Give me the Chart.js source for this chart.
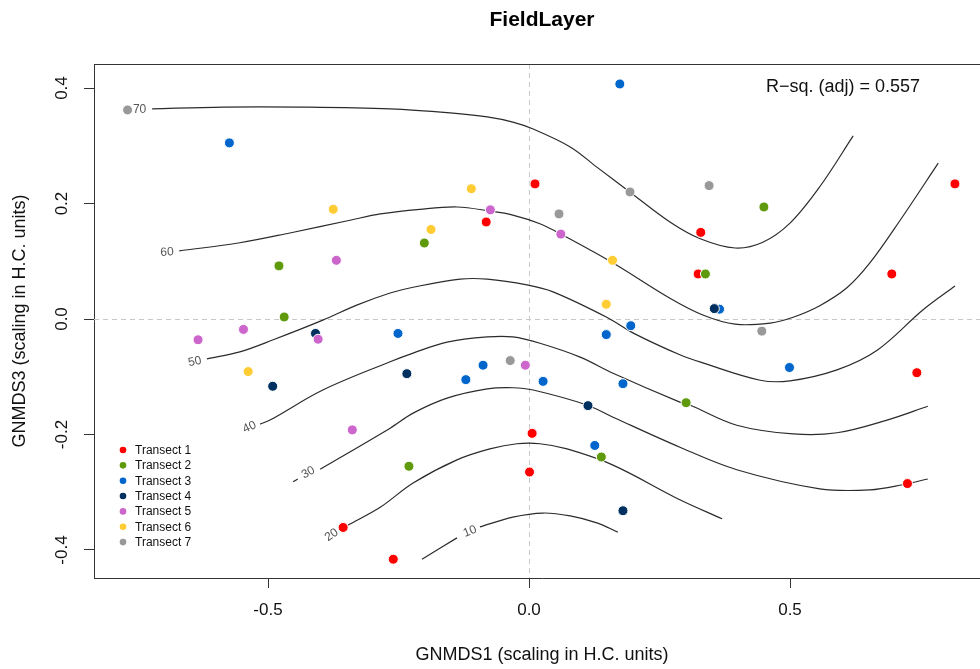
<!DOCTYPE html>
<html><head><meta charset="utf-8">
<script src="https://cdn.jsdelivr.net/npm/chart.js@4/dist/chart.umd.min.js"></script>
<style>html,body{margin:0;padding:0;background:#fff;overflow:hidden;width:980px;height:669px}</style>
</head><body><canvas id="c" width="996" height="669"></canvas>
<script>
// ---------- DATA ----------
const transectNames = ['Transect 1','Transect 2','Transect 3','Transect 4','Transect 5','Transect 6','Transect 7'];

const t1X = [0.0115, -0.082, 0.329, 0.324, 0.695, 0.816, 0.743, 0.006, 0.001, 0.725, -0.356, -0.260];
const t1Y = [0.234, 0.168, 0.150, 0.078, 0.078, 0.234, -0.093, -0.198, -0.265, -0.285, -0.361, -0.416];
const t2X = [0.450, 0.338, -0.479, -0.2005, -0.469, 0.301, 0.1386, -0.230];
const t2Y = [0.194, 0.078, 0.092, 0.1316, 0.0035, -0.145, -0.239, -0.255];
const t3X = [0.174, -0.574, 0.365, 0.195, 0.148, -0.251, -0.088, -0.121, 0.027, 0.180, 0.499, 0.126];
const t3Y = [0.407, 0.305, 0.017, -0.0116, -0.027, -0.025, -0.080, -0.105, -0.108, -0.112, -0.084, -0.219];
const t4X = [0.355, -0.409, -0.491, -0.234, 0.113, 0.180];
const t4Y = [0.018, -0.025, -0.1165, -0.0947, -0.150, -0.332];
const t5X = [-0.074, 0.061, -0.369, -0.547, -0.634, -0.404, -0.007, -0.3385];
const t5Y = [0.189, 0.147, 0.1016, -0.018, -0.036, -0.035, -0.080, -0.192];
const t6X = [-0.1105, -0.375, -0.1877, 0.160, 0.148, -0.538];
const t6Y = [0.2256, 0.190, 0.155, 0.1016, 0.0255, -0.091];
const t7X = [-0.769, 0.1935, 0.345, 0.0575, 0.446, -0.036];
const t7Y = [0.362, 0.220, 0.231, 0.182, -0.021, -0.072];

// contour lines of the fitted surface (level -> [x,y] pairs)
const contour70 = [[-0.722,0.364],[-0.586,0.367],[-0.439,0.367],[-0.266,0.364],[-0.151,0.357],[-0.080,0.350],[-0.031,0.341],[0.008,0.329],[0.079,0.298],[0.130,0.263],[0.193,0.220],[0.270,0.168],[0.328,0.139],[0.395,0.123],[0.448,0.133],[0.500,0.166],[0.557,0.229],[0.621,0.317]];
const contour60 = [[-0.670,0.118],[-0.554,0.132],[-0.458,0.149],[-0.343,0.171],[-0.285,0.182],[-0.209,0.190],[-0.138,0.194],[-0.075,0.187],[-0.031,0.180],[0.021,0.165],[0.061,0.147],[0.161,0.097],[0.270,0.036],[0.333,0.007],[0.395,-0.009],[0.462,-0.007],[0.506,0.003],[0.557,0.023],[0.609,0.054],[0.653,0.097],[0.711,0.171],[0.784,0.270]];
const contour50 = [[-0.617,-0.069],[-0.554,-0.057],[-0.490,-0.036],[-0.395,-0.002],[-0.330,0.024],[-0.266,0.045],[-0.222,0.055],[-0.132,0.069],[-0.080,0.069],[-0.004,0.059],[0.046,0.047],[0.149,0.003],[0.199,-0.024],[0.289,-0.062],[0.333,-0.076],[0.443,-0.106],[0.500,-0.107],[0.590,-0.088],[0.667,-0.054],[0.755,0.016],[0.816,0.057]];
const contour40 = [[-0.515,-0.182],[-0.496,-0.175],[-0.395,-0.123],[-0.266,-0.074],[-0.222,-0.059],[-0.157,-0.040],[-0.080,-0.031],[-0.031,-0.031],[0.021,-0.042],[0.098,-0.066],[0.161,-0.094],[0.289,-0.144],[0.308,-0.149],[0.398,-0.184],[0.506,-0.199],[0.590,-0.197],[0.686,-0.175],[0.764,-0.151]];
const contour30a = [[-0.452,-0.282],[-0.443,-0.277]];
const contour30b = [[-0.400,-0.260],[-0.266,-0.189],[-0.222,-0.163],[-0.157,-0.137],[-0.080,-0.121],[-0.031,-0.119],[0.008,-0.123],[0.111,-0.149],[0.161,-0.170],[0.289,-0.222],[0.398,-0.261],[0.557,-0.294],[0.653,-0.296],[0.716,-0.287],[0.764,-0.277]];
const contour20 = [[-0.347,-0.357],[-0.285,-0.326],[-0.222,-0.284],[-0.138,-0.244],[-0.075,-0.225],[-0.023,-0.216],[0.021,-0.216],[0.073,-0.225],[0.161,-0.253],[0.289,-0.313],[0.370,-0.346]];
const contour10a = [[-0.205,-0.416],[-0.138,-0.379]];
const contour10b = [[-0.094,-0.360],[-0.031,-0.343],[0.027,-0.336],[0.079,-0.341],[0.130,-0.353],[0.170,-0.369]];

const contourLabels = ['70','60','50','40','30','20','10'];
const contourLabelX = [-0.746, -0.6935, -0.640, -0.5354, -0.4228, -0.378, -0.113];
const contourLabelY = [0.362, 0.1155, -0.074, -0.1875, -0.266, -0.374, -0.368];

const xTicks = [-0.5, 0, 0.5];
const yTicks = [-0.4, -0.2, 0, 0.2, 0.4];
const xMin = -0.8333;
const yMin = -0.4485, yMax = 0.4416;
const rsqText = 'R\u2212sq. (adj) = 0.557';

// ---------- STYLE ----------
const FONT = "'Liberation Sans', Arial, Helvetica, sans-serif";
const transectColors = ['#FF0000','#5E9A0C','#0066CC','#00305F','#CC66CC','#FFCC33','#999999'];
const labelAngles = [0, -3, -12, -25, -28, -35, -22];
const PX_PER_X = 522, X_ZERO_PX = 529;

const allX = [t1X,t2X,t3X,t4X,t5X,t6X,t7X];
const allY = [t1Y,t2Y,t3Y,t4Y,t5Y,t6Y,t7Y];

const datasets = [];
transectNames.forEach((name, i) => {
  datasets.push({
    label: name,
    data: allX[i].map((x, j) => ({x: x, y: allY[i][j]})),
    backgroundColor: transectColors[i],
    borderColor: '#ffffff',
    borderWidth: 1,
    pointRadius: 5,
    pointHoverRadius: 5,
    order: 7 - i
  });
});
[contour70, contour60, contour50, contour40, contour30a, contour30b, contour20, contour10a, contour10b].forEach((c) => {
  datasets.push({
    label: '',
    data: c.map(p => ({x: p[0], y: p[1]})),
    showLine: true,
    borderColor: '#2b2b2b',
    borderWidth: 1.2,
    pointRadius: 0,
    pointHoverRadius: 0,
    tension: 0.35,
    fill: false,
    order: 20
  });
});

const decor = {
  id: 'decor',
  beforeDatasetsDraw(chart) {
    const {ctx, chartArea: a, scales: {x, y}} = chart;
    ctx.save();
    ctx.strokeStyle = '#c8c8c8';
    ctx.lineWidth = 1;
    ctx.setLineDash([5, 4]);
    const x0 = Math.round(x.getPixelForValue(0)) + 0.5;
    const y0 = Math.round(y.getPixelForValue(0)) + 0.5;
    ctx.beginPath(); ctx.moveTo(x0, a.top); ctx.lineTo(x0, a.bottom); ctx.stroke();
    ctx.beginPath(); ctx.moveTo(a.left, y0); ctx.lineTo(a.right, y0); ctx.stroke();
    ctx.setLineDash([]);
    ctx.strokeStyle = '#333';
    ctx.beginPath(); ctx.moveTo(a.left, a.top + 0.5); ctx.lineTo(a.right, a.top + 0.5); ctx.stroke();
    ctx.restore();
  },
  afterDatasetsDraw(chart) {
    const {ctx, chartArea: a, scales: {x, y}} = chart;
    ctx.save();
    ctx.fillStyle = '#555';
    ctx.font = '12px ' + FONT;
    ctx.textAlign = 'center';
    ctx.textBaseline = 'middle';
    contourLabels.forEach((t, i) => {
      ctx.save();
      ctx.translate(x.getPixelForValue(contourLabelX[i]), y.getPixelForValue(contourLabelY[i]));
      ctx.rotate(labelAngles[i] * Math.PI / 180);
      ctx.fillText(t, 0, 0);
      ctx.restore();
    });
    ctx.font = '12px ' + FONT;
    ctx.textAlign = 'left';
    transectNames.forEach((n, i) => {
      const yy = 450 + i * 15.35;
      ctx.fillStyle = transectColors[i];
      ctx.beginPath(); ctx.arc(a.left + 29, yy, 3.3, 0, Math.PI * 2); ctx.fill();
      ctx.fillStyle = '#111';
      ctx.fillText(n, a.left + 41, yy + 0.5);
    });
    ctx.font = '18px ' + FONT;
    ctx.fillStyle = '#111';
    ctx.textAlign = 'right';
    ctx.fillText(rsqText, 920, 87);
    ctx.font = '17px ' + FONT;
    ctx.textAlign = 'center';
    yTicks.forEach(v => {
      ctx.save();
      ctx.translate(62, y.getPixelForValue(v));
      ctx.rotate(-Math.PI / 2);
      ctx.fillText(v === 0 ? '0.0' : v.toFixed(1), 0, 0);
      ctx.restore();
    });
    ctx.restore();
  }
};

const chart = new Chart(document.getElementById('c'), {
  type: 'scatter',
  data: {datasets},
  plugins: [decor],
  options: {
    responsive: false,
    animation: false,
    events: [],
    layout: {padding: 0},
    plugins: {
      legend: {display: false},
      tooltip: {enabled: false},
      title: {
        display: true, fullSize: false, text: 'FieldLayer', color: '#000',
        font: {size: 21, weight: 'bold', family: FONT},
        padding: {top: 8, bottom: 30.8}
      }
    },
    scales: {
      x: {
        type: 'linear', min: xMin, max: 0.88,
        afterBuildTicks: s => { s.ticks = xTicks.map(v => ({value: v})); },
        afterFit: s => { s.height = 91; },
        grid: {drawOnChartArea: false, drawTicks: true, tickLength: 10, color: '#333'},
        border: {display: true, color: '#333', width: 1},
        ticks: {color: '#111', font: {size: 17, family: FONT}, padding: 12,
          callback: v => v === 0 ? '0.0' : v.toFixed(1)},
        title: {display: true, text: 'GNMDS1 (scaling in H.C. units)', color: '#111',
          font: {size: 18, family: FONT}, padding: {top: 0, bottom: 3}}
      },
      y: {
        type: 'linear', min: yMin, max: yMax,
        afterBuildTicks: s => { s.ticks = yTicks.map(v => ({value: v})); },
        afterFit: s => { s.width = 94; },
        grid: {drawOnChartArea: false, drawTicks: true, tickLength: 10, color: '#333'},
        border: {display: true, color: '#333', width: 1},
        ticks: {color: 'rgba(0,0,0,0)', font: {size: 17, family: FONT}},
        title: {display: true, text: 'GNMDS3 (scaling in H.C. units)', color: '#111',
          font: {size: 18, family: FONT}, padding: {top: 9, bottom: 0}}
      }
    }
  }
});
// match the scale span to the plotting region width
const ca = chart.chartArea;
chart.options.scales.x.min = (ca.left - X_ZERO_PX) / PX_PER_X;
chart.options.scales.x.max = (ca.right - X_ZERO_PX) / PX_PER_X;
chart.update('none');
</script>
</body></html>
